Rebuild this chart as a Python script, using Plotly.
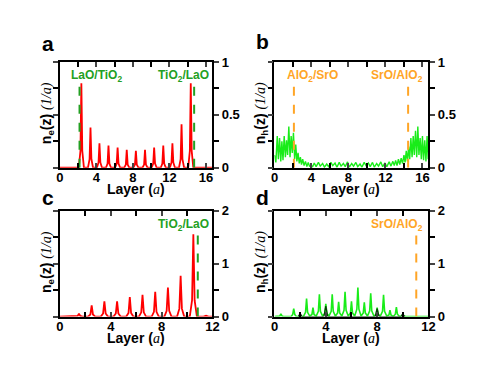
import plotly.graph_objects as go

W, H = 491, 379
OFF = 8  # page body margin shifts the figure by this many pixels

# ---- panel a: electron density, LaO/TiO2 superlattice ----
layer_a = [0,
           2.07, 2.25, 2.35, 2.45, 2.63,
           3.07, 3.25, 3.35, 3.45, 3.63,
           4.05, 4.23, 4.33, 4.43, 4.61,
           5.04, 5.22, 5.32, 5.42, 5.60,
           6.04, 6.22, 6.32, 6.42, 6.60,
           7.04, 7.22, 7.32, 7.42, 7.60,
           8.04, 8.22, 8.32, 8.42, 8.60,
           9.04, 9.22, 9.32, 9.42, 9.60,
           10.04, 10.22, 10.32, 10.42, 10.60,
           11.04, 11.22, 11.32, 11.42, 11.60,
           12.04, 12.22, 12.32, 12.42, 12.60,
           13.04, 13.22, 13.32, 13.42, 13.60,
           14.05, 14.23, 14.33, 14.43, 14.61,
           16.7]
ne_a = [0,
        0, 0.16, 0.80, 0.16, 0,
        0, 0.08, 0.38, 0.08, 0,
        0, 0.05, 0.23, 0.05, 0,
        0, 0.04, 0.21, 0.04, 0,
        0, 0.04, 0.19, 0.04, 0,
        0, 0.03, 0.17, 0.03, 0,
        0, 0.03, 0.16, 0.03, 0,
        0, 0.03, 0.17, 0.03, 0,
        0, 0.04, 0.19, 0.04, 0,
        0, 0.04, 0.21, 0.04, 0,
        0, 0.05, 0.23, 0.05, 0,
        0, 0.08, 0.41, 0.08, 0,
        0, 0.16, 0.80, 0.16, 0,
        0]
iface_a = [2.15, 14.7]

# ---- panel b: hole density ----
layer_b = [0.0, 0.15, 0.3, 0.42, 0.55, 0.68, 0.8, 0.92, 1.05, 1.18, 1.3, 1.42, 1.55, 1.68, 1.8, 1.92,
           2.05, 2.18, 2.3, 2.42, 2.55, 2.68, 2.8, 2.92, 3.05, 3.2, 3.35, 3.5, 3.65, 3.8, 3.95, 4.1,
           4.3, 4.5, 4.75, 4.95, 5.2, 5.4, 5.65, 5.85, 6.1, 6.3, 6.55, 6.75, 7.0, 7.2, 7.45, 7.65, 7.9, 8.1,
           8.35, 8.55, 8.8, 9.0, 9.25, 9.45, 9.7, 9.9, 10.15, 10.35, 10.6, 10.8, 11.05, 11.25, 11.5, 11.7,
           11.95, 12.15, 12.4, 12.6,
           12.8, 12.95, 13.1, 13.25, 13.4, 13.55, 13.7, 13.85, 14.0, 14.12, 14.25, 14.38, 14.5, 14.62, 14.75,
           14.88, 15.0, 15.12, 15.25, 15.38, 15.5, 15.62, 15.75, 15.88, 16.0, 16.12, 16.25, 16.38, 16.5,
           16.62, 16.7]
nh_b = [0.12, 0.05, 0.30, 0.08, 0.28, 0.06, 0.25, 0.07, 0.30, 0.10, 0.26, 0.12, 0.39, 0.10, 0.30, 0.14,
        0.33, 0.08, 0.22, 0.06, 0.14, 0.04, 0.10, 0.03, 0.08, 0.02, 0.06, 0.01, 0.05, 0.01, 0.03, 0.005,
        0.045, 0.01, 0.05, 0.015, 0.04, 0.005, 0.035, 0.01, 0.05, 0.02, 0.045, 0.005, 0.05, 0.015, 0.04, 0.01, 0.055, 0.005,
        0.04, 0.015, 0.05, 0.01, 0.035, 0.005, 0.05, 0.02, 0.045, 0.01, 0.05, 0.005, 0.04, 0.015, 0.055, 0.01,
        0.045, 0.01, 0.055, 0.015,
        0.06, 0.02, 0.07, 0.02, 0.08, 0.03, 0.09, 0.04, 0.12, 0.05, 0.16, 0.06, 0.20, 0.08, 0.28,
        0.10, 0.30, 0.12, 0.35, 0.10, 0.39, 0.12, 0.28, 0.08, 0.30, 0.07, 0.26, 0.06, 0.30,
        0.08, 0.20]
iface_b = [2.1, 14.45]

# ---- panel c: electron density, single interface ----
layer_c = [0,
           1.22, 1.40, 1.50, 1.60, 1.78,
           2.22, 2.40, 2.50, 2.60, 2.78,
           3.22, 3.40, 3.50, 3.60, 3.78,
           4.22, 4.40, 4.50, 4.60, 4.78,
           5.22, 5.40, 5.50, 5.60, 5.78,
           6.22, 6.40, 6.50, 6.60, 6.78,
           7.22, 7.40, 7.50, 7.60, 7.78,
           8.22, 8.40, 8.50, 8.60, 8.78,
           9.22, 9.40, 9.50, 9.60, 9.78,
           10.22, 10.40, 10.50, 10.60, 10.78,
           11.30, 11.50, 11.70,
           12]
ne_c = [0,
        0, 0.012, 0.055, 0.012, 0,
        0, 0.04, 0.21, 0.04, 0,
        0, 0.06, 0.29, 0.06, 0,
        0, 0.06, 0.29, 0.06, 0,
        0, 0.07, 0.37, 0.07, 0,
        0, 0.08, 0.41, 0.08, 0,
        0, 0.09, 0.47, 0.09, 0,
        0, 0.11, 0.55, 0.11, 0,
        0, 0.15, 0.77, 0.15, 0,
        0, 0.31, 1.56, 0.31, 0,
        0, 0.015, 0,
        0]
iface_c = [10.85]

# ---- panel d: hole density, single interface ----
layer_d = [0, 0.30, 0.42, 0.50, 0.58, 0.70,
           1.30, 1.42, 1.50, 1.58, 1.70,
           2.25, 2.42, 2.50, 2.58, 2.75,
           2.92, 3.00, 3.08, 3.25,
           3.42, 3.50, 3.58, 3.75,
           3.92, 4.00, 4.08, 4.25,
           4.42, 4.50, 4.58, 4.75,
           4.92, 5.00, 5.08, 5.25,
           5.42, 5.50, 5.58, 5.75,
           5.92, 6.00, 6.08, 6.25,
           6.42, 6.50, 6.58, 6.75,
           6.92, 7.00, 7.08, 7.25,
           7.42, 7.50, 7.58, 7.75,
           7.92, 8.00, 8.08, 8.25,
           8.42, 8.50, 8.58, 8.75,
           8.92, 9.00, 9.08, 9.25,
           9.42, 9.50, 9.58, 9.75,
           9.92, 10.00, 10.08, 10.25,
           10.40, 10.50, 10.60, 10.75,
           12]
nh_d = [0, 0, 0.012, 0.05, 0.012, 0,
        0, 0.04, 0.15, 0.04, 0,
        0, 0.08, 0.34, 0.08, 0.01,
        0.04, 0.17, 0.04, 0.01,
        0.10, 0.42, 0.10, 0.01,
        0.06, 0.24, 0.06, 0.01,
        0.10, 0.42, 0.10, 0.01,
        0.07, 0.28, 0.07, 0.01,
        0.12, 0.47, 0.12, 0.01,
        0.07, 0.29, 0.07, 0.01,
        0.14, 0.55, 0.14, 0.01,
        0.07, 0.27, 0.07, 0.01,
        0.11, 0.44, 0.11, 0.01,
        0.04, 0.17, 0.04, 0.01,
        0.10, 0.41, 0.10, 0.01,
        0.03, 0.12, 0.03, 0.0,
        0.045, 0.18, 0.045, 0,
        0.012, 0.05, 0.012, 0,
        0, 0.01, 0, 0,
        0]
# darker companion curve visible under a few of the green peaks
layer_d_dark = [1.85, 2.0, 2.15, 3.85, 4.0, 4.15, 7.85, 8.0, 8.15, 9.85, 10.0, 10.15]
nh_d_dark = [0, 0.06, 0, 0, 0.20, 0, 0, 0.15, 0, 0, 0.05, 0]
iface_d = [11.05]

RED = "#ff0000"
LIME = "#19ec19"
DKGREEN = "#23a023"
ORANGE = "#ffa526"
FONT = "Liberation Sans"


def px(x):
    return (x - OFF) / W


def py(y):
    return 1 - (y - OFF) / H


fig = go.Figure()

fig.add_trace(go.Scatter(x=layer_a, y=ne_a, mode="lines", line=dict(color=RED, width=1.8),
                         xaxis="x", yaxis="y"))
for xv in iface_a:
    fig.add_trace(go.Scatter(x=[xv, xv], y=[0, 0.81], mode="lines",
                             line=dict(color=DKGREEN, width=2, dash="dash"), xaxis="x", yaxis="y"))

fig.add_trace(go.Scatter(x=layer_b, y=nh_b, mode="lines", line=dict(color=LIME, width=1.4),
                         xaxis="x2", yaxis="y2"))
for xv in iface_b:
    fig.add_trace(go.Scatter(x=[xv, xv], y=[0, 0.8], mode="lines",
                             line=dict(color=ORANGE, width=2, dash="dash"), xaxis="x2", yaxis="y2"))

fig.add_trace(go.Scatter(x=layer_c, y=ne_c, mode="lines", line=dict(color=RED, width=1.8),
                         xaxis="x3", yaxis="y3"))
for xv in iface_c:
    fig.add_trace(go.Scatter(x=[xv, xv], y=[0, 1.55], mode="lines",
                             line=dict(color=DKGREEN, width=2, dash="dash"), xaxis="x3", yaxis="y3"))

fig.add_trace(go.Scatter(x=layer_d, y=nh_d, mode="lines", line=dict(color=LIME, width=1.6),
                         xaxis="x4", yaxis="y4"))
fig.add_trace(go.Scatter(x=layer_d_dark, y=nh_d_dark, mode="lines", line=dict(color="#0a3a0a", width=1.2),
                         xaxis="x4", yaxis="y4"))
for xv in iface_d:
    fig.add_trace(go.Scatter(x=[xv, xv], y=[0, 1.62], mode="lines",
                             line=dict(color=ORANGE, width=2, dash="dash"), xaxis="x4", yaxis="y4"))

tickfont = dict(family=FONT, size=13, color="black", weight="bold")


def xax(dom, rng, dtick, anchor):
    return dict(domain=dom, range=rng, anchor=anchor, dtick=dtick, tick0=0,
                ticks="inside", ticklen=5, tickwidth=1.5, mirror="ticks",
                showline=True, linewidth=1.5, linecolor="black", showgrid=False, zeroline=False,
                tickfont=tickfont, ticklabelstandoff=-3,
                minor=dict(dtick=dtick / 2, tick0=0, ticks="inside", ticklen=5, tickwidth=1.5,
                           tickcolor="black", showgrid=False))


def yax(dom, rng, dtick, anchor):
    return dict(domain=dom, range=rng, anchor=anchor, side="right", dtick=dtick, tick0=0,
                ticks="outside", ticklen=5, tickwidth=1.5, mirror="ticks",
                showline=True, linewidth=1.5, linecolor="black", showgrid=False, zeroline=False,
                tickfont=tickfont,
                minor=dict(dtick=dtick / 2, tick0=0, ticks="outside", ticklen=5, tickwidth=1.5,
                           tickcolor="black", showgrid=False))


xl = [px(57), px(213)]
xr = [px(276.5), px(434)]
yt = [py(167), py(57)]
yb = [py(322), py(212)]

ylab_e = ('<b>n<sub>e</sub>(z)</b> '
          '<span style="font-family:Liberation Serif"><i>(1/a)</i></span>')
ylab_h = ('<b>n<sub>h</sub>(z)</b> '
          '<span style="font-family:Liberation Serif"><i>(1/a)</i></span>')
xlab = '<b>Layer (</b><span style="font-family:Liberation Serif"><i>a</i></span><b>)</b>'

annotations = []
# panel letters
for txt, x, y in [("a", 45, 38), ("b", 264, 36), ("c", 45, 198), ("d", 264, 198)]:
    annotations.append(dict(text="<b>%s</b>" % txt, x=px(x), y=py(y), xref="paper", yref="paper",
                            xanchor="center", yanchor="middle",
                            showarrow=False, font=dict(family=FONT, size=21, color="black")))
# axis titles
for txt, x, y in [(ylab_e, 44, 110), (ylab_h, 263, 110), (ylab_e, 44, 265), (ylab_h, 263, 265)]:
    annotations.append(dict(text=txt, x=px(x), y=py(y), xref="paper", yref="paper", textangle=-90,
                            xanchor="center", yanchor="middle",
                            showarrow=False, font=dict(family=FONT, size=14, color="black")))
for x, y in [(135, 189), (355, 189), (135, 344), (355, 344)]:
    annotations.append(dict(text=xlab, x=px(x), y=py(y), xref="paper", yref="paper",
                            xanchor="center", yanchor="middle",
                            showarrow=False, font=dict(family=FONT, size=14, color="black")))
# interface labels
lab_font_g = dict(family=FONT, size=12, color=DKGREEN, weight="bold")
lab_font_o = dict(family=FONT, size=12, color=ORANGE, weight="bold")
annotations += [
    dict(text="LaO/TiO<sub>2</sub>", x=1.05, y=0.87, xref="x", yref="y", xanchor="left",
         yanchor="middle", showarrow=False, font=lab_font_g),
    dict(text="TiO<sub>2</sub>/LaO", x=16.5, y=0.87, xref="x", yref="y", xanchor="right",
         yanchor="middle", showarrow=False, font=lab_font_g),
    dict(text="AlO<sub>2</sub>/SrO", x=1.1, y=0.87, xref="x2", yref="y2", xanchor="left",
         yanchor="middle", showarrow=False, font=lab_font_o),
    dict(text="SrO/AlO<sub>2</sub>", x=16.3, y=0.87, xref="x2", yref="y2", xanchor="right",
         yanchor="middle", showarrow=False, font=lab_font_o),
    dict(text="TiO<sub>2</sub>/LaO", x=11.9, y=1.74, xref="x3", yref="y3", xanchor="right",
         yanchor="middle", showarrow=False, font=lab_font_g),
    dict(text="SrO/AlO<sub>2</sub>", x=11.75, y=1.74, xref="x4", yref="y4", xanchor="right",
         yanchor="middle", showarrow=False, font=lab_font_o),
]

fig.update_layout(
    width=W, height=H, autosize=False,
    margin=dict(l=0, r=0, t=0, b=0),
    paper_bgcolor="white", plot_bgcolor="white",
    showlegend=False,
    xaxis=xax(xl, [0, 16.7], 4, "y"),
    yaxis=yax(yt, [0, 1], 0.5, "x"),
    xaxis2=xax(xr, [0, 16.65], 4, "y2"),
    yaxis2=yax(yt, [0, 1], 0.5, "x2"),
    xaxis3=xax(xl, [0, 12], 4, "y3"),
    yaxis3=yax(yb, [0, 2], 1, "x3"),
    xaxis4=xax(xr, [0, 12], 4, "y4"),
    yaxis4=yax(yb, [0, 2], 1, "x4"),
    annotations=annotations,
)

fig.write_html("out.html")
